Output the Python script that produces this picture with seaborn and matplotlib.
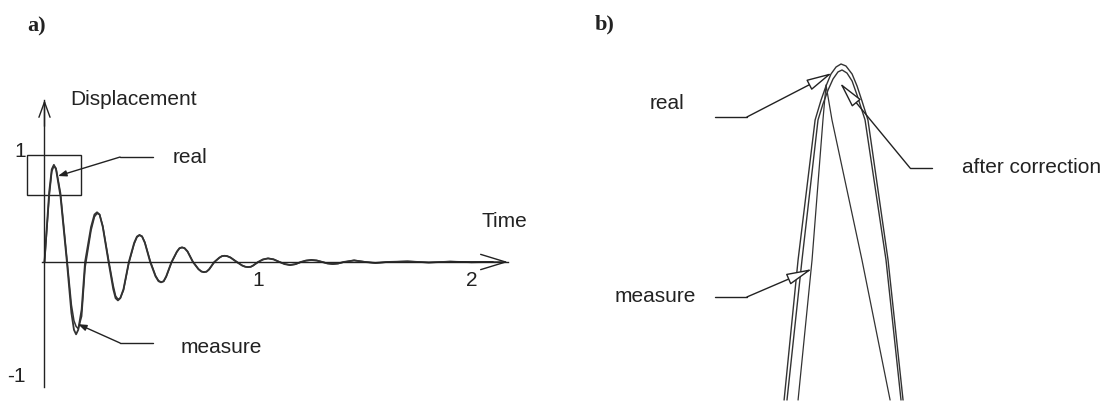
import matplotlib
matplotlib.use("Agg")
import matplotlib.pyplot as plt
from matplotlib.patches import Rectangle
import seaborn as sns

# ---- panel a: damped response over the full record ----
time_s = [0.000, 0.022, 0.034, 0.044, 0.054, 0.075, 0.105,
          0.126, 0.138, 0.148, 0.158, 0.174, 0.190,
          0.218, 0.234, 0.246, 0.258, 0.273, 0.300,
          0.322, 0.333, 0.344, 0.355, 0.370, 0.395,
          0.420, 0.433, 0.445, 0.457, 0.470, 0.495,
          0.520, 0.534, 0.546, 0.558, 0.570, 0.595,
          0.620, 0.632, 0.644, 0.656, 0.670, 0.695,
          0.721, 0.735, 0.747, 0.759, 0.771, 0.795,
          0.819, 0.831, 0.843, 0.855, 0.871, 0.900,
          0.926, 0.940, 0.953, 0.966, 0.976, 1.000,
          1.023, 1.047, 1.073, 1.100,
          1.125, 1.150, 1.175, 1.200,
          1.225, 1.250, 1.275, 1.300,
          1.325, 1.350, 1.375, 1.400,
          1.450, 1.500, 1.550, 1.600, 1.700, 1.800, 1.900, 2.000, 2.100]

real_disp = [0.00, 0.62, 0.82, 0.86, 0.82, 0.58, 0.00,
             -0.45, -0.60, -0.64, -0.60, -0.42, 0.00,
             0.31, 0.42, 0.44, 0.42, 0.31, 0.00,
             -0.24, -0.32, -0.34, -0.32, -0.24, 0.00,
             0.17, 0.225, 0.24, 0.225, 0.17, 0.00,
             -0.127, -0.17, -0.18, -0.17, -0.127, 0.00,
             0.092, 0.122, 0.13, 0.122, 0.092, 0.00,
             -0.064, -0.085, -0.09, -0.085, -0.064, 0.00,
             0.039, 0.052, 0.055, 0.052, 0.039, 0.00,
             -0.032, -0.042, -0.045, -0.042, -0.032, 0.00,
             0.023, 0.032, 0.023, 0.00,
             -0.019, -0.027, -0.019, 0.00,
             0.013, 0.018, 0.013, 0.00,
             -0.013, -0.018, -0.013, 0.00,
             0.014, 0.00, -0.008, 0.00, 0.005, -0.004, 0.003, -0.002, 0.00]

measure_disp = [0.00, 0.58, 0.80, 0.85, 0.83, 0.61, 0.03,
                -0.38, -0.52, -0.57, -0.59, -0.48, -0.05,
                0.28, 0.40, 0.43, 0.42, 0.32, 0.02,
                -0.21, -0.30, -0.33, -0.32, -0.25, -0.01,
                0.16, 0.22, 0.236, 0.228, 0.175, 0.01,
                -0.12, -0.165, -0.177, -0.172, -0.132, -0.005,
                0.088, 0.12, 0.128, 0.123, 0.095, 0.004,
                -0.061, -0.083, -0.089, -0.086, -0.067, -0.003,
                0.037, 0.051, 0.055, 0.053, 0.041, 0.003,
                -0.03, -0.041, -0.045, -0.043, -0.034, -0.002,
                0.021, 0.032, 0.024, 0.002,
                -0.017, -0.027, -0.02, -0.002,
                0.012, 0.018, 0.014, 0.002,
                -0.012, -0.018, -0.014, -0.002,
                0.015, 0.002, -0.01, -0.002, 0.006, -0.005, 0.004, -0.003, 0.00]

x_tick_values = [1, 2]
x_tick_labels = ["1", "2"]
y_tick_values = [-1, 1]
y_tick_labels = ["-1", "1"]

# ---- panel b: enlarged first peak ----
peak_t_real = [0.0260, 0.0342, 0.0442, 0.0477, 0.0506, 0.0535, 0.0565, 0.0594,
               0.0623, 0.0659, 0.0688, 0.0717, 0.0752, 0.0870, 0.0958]
peak_real = [0.4795, 0.6344, 0.7893, 0.8114, 0.8269, 0.8401, 0.8479, 0.8512,
             0.8490, 0.8401, 0.8269, 0.8103, 0.7893, 0.6344, 0.4795]

peak_t_corrected = [0.0277, 0.0365, 0.0459, 0.0488, 0.0518, 0.0547, 0.0576, 0.0600,
                    0.0629, 0.0659, 0.0688, 0.0735, 0.0858, 0.0946]
peak_corrected = [0.4795, 0.6344, 0.7893, 0.8070, 0.8224, 0.8346, 0.8424, 0.8446,
                  0.8412, 0.8324, 0.8169, 0.7893, 0.6344, 0.4795]

peak_t_measure = [0.0342, 0.0424, 0.0488, 0.0506, 0.0541, 0.0717, 0.0882]
peak_measure = [0.4795, 0.6344, 0.7893, 0.8280, 0.7893, 0.6344, 0.4795]

# ---- styling ----
sns.set_style("white")
plt.rcParams["font.family"] = ["Liberation Sans", "DejaVu Sans"]
INK = "#222222"
LINE = "#333333"
FS = 15

W, H, DPI = 1113, 403, 100
fig = plt.figure(figsize=(W / DPI, H / DPI), dpi=DPI)
fig.patch.set_facecolor("white")

ax_a = fig.add_axes([0, 0, 560 / W, 1])
ax_b = fig.add_axes([560 / W, 0, (W - 560) / W, 1])
for ax in (ax_a, ax_b):
    ax.set_facecolor("none")

# panel a curves
sns.lineplot(x=time_s, y=real_disp, ax=ax_a, color=LINE, lw=1.3,
             sort=False, estimator=None)
sns.lineplot(x=time_s, y=measure_disp, ax=ax_a, color=LINE, lw=1.1,
             sort=False, estimator=None)

ax_a.set_xlim(-0.2084, 2.4145)
ax_a.set_ylim(-1.2478, 2.3186)

# axes through the origin with arrow tips
for side in ("top", "right"):
    ax_a.spines[side].set_visible(False)
for side in ("left", "bottom"):
    sp = ax_a.spines[side]
    sp.set_position(("data", 0))
    sp.set_color(INK)
    sp.set_linewidth(1.0)
ax_a.spines["bottom"].set_bounds(-0.012, 2.17)
ax_a.spines["left"].set_bounds(-1.106, 1.43)

ax_a.set_xticks(x_tick_values, x_tick_labels)
ax_a.set_xticks([1.5], minor=True)
ax_a.set_yticks(y_tick_values, y_tick_labels)
ax_a.tick_params(axis="both", which="both", direction="inout", length=7,
                 width=1, colors=INK, labelsize=FS)
ax_a.tick_params(axis="x", pad=3)
ax_a.tick_params(axis="y", pad=10)
ax_a.grid(False)

ax_a.annotate("", xy=(2.171, 0), xytext=(1.9, 0),
              arrowprops=dict(arrowstyle="->,head_length=1.8,head_width=0.55",
                              lw=1.0, color=INK, shrinkA=0, shrinkB=0,
                              mutation_scale=10))
ax_a.annotate("", xy=(0, 1.434), xytext=(0, 1.2),
              arrowprops=dict(arrowstyle="->,head_length=1.1,head_width=0.4",
                              lw=1.0, color=INK, shrinkA=0, shrinkB=0,
                              mutation_scale=10))

ax_a.text(0.119, 1.434, "Displacement", fontsize=FS, color=INK,
          ha="left", va="center")
ax_a.text(2.049, 0.354, "Time", fontsize=FS, color=INK, ha="left", va="center")

# framed region that panel b enlarges
ax_a.add_patch(Rectangle((-0.082, 0.593), 0.253, 0.354, fill=False,
                         ec=INK, lw=1.0))


def leader(ax, text, text_xy, bar, tip, elbow, head, fc, ha):
    ax.plot(bar[0], bar[1], color=INK, lw=1.0)
    ax.annotate("", xy=tip, xytext=elbow,
                arrowprops=dict(arrowstyle="-|>," + head, lw=1.0, color=INK,
                                fc=fc, shrinkA=0, shrinkB=0, mutation_scale=10))
    ax.text(text_xy[0], text_xy[1], text, fontsize=FS, color=INK,
            ha=ha, va="center")


small_head = "head_length=0.5,head_width=0.18"
leader(ax_a, "real", (0.602, 0.929), ([0.354, 0.508], [0.929, 0.929]),
       (0.063, 0.761), (0.354, 0.929), small_head, INK, "left")
leader(ax_a, "measure", (0.635, -0.761), ([0.354, 0.508], [-0.717, -0.717]),
       (0.157, -0.55), (0.354, -0.717), small_head, INK, "left")

# panel b curves
sns.lineplot(x=peak_t_real, y=peak_real, ax=ax_b, color=LINE, lw=1.0,
             sort=False, estimator=None)
sns.lineplot(x=peak_t_corrected, y=peak_corrected, ax=ax_b, color=LINE, lw=1.0,
             sort=False, estimator=None)
sns.lineplot(x=peak_t_measure, y=peak_measure, ax=ax_b, color=LINE, lw=0.9,
             sort=False, estimator=None)
ax_b.set_xlim(-0.1055, 0.2190)
ax_b.set_ylim(0.4762, 0.922)
ax_b.axis("off")

open_head = "head_length=1.6,head_width=0.36"
leader(ax_b, "real", (-0.0527, 0.807), ([-0.0145, 0.0042], [0.7926, 0.7926]),
       (0.0541, 0.8412), (0.0042, 0.7926), open_head, "white", "left")
leader(ax_b, "measure", (-0.0732, 0.5935), ([-0.0145, 0.0042], [0.5935, 0.5935]),
       (0.0424, 0.6244), (0.0042, 0.5935), open_head, "white", "left")
leader(ax_b, "after correction", (0.1304, 0.7362),
       ([0.0999, 0.1128], [0.7362, 0.7362]),
       (0.0588, 0.8302), (0.0999, 0.7362), open_head, "white", "left")

# panel letters
fig.text(27 / W, 1 - 26 / H, "a)", fontsize=16, fontweight="bold",
         family=["Liberation Serif", "DejaVu Serif"], color=INK,
         ha="left", va="center")
fig.text(595 / W, 1 - 24 / H, "b)", fontsize=16, fontweight="bold",
         family=["Liberation Serif", "DejaVu Serif"], color=INK,
         ha="left", va="center")

fig.savefig("out.png", dpi=DPI, facecolor="white")
